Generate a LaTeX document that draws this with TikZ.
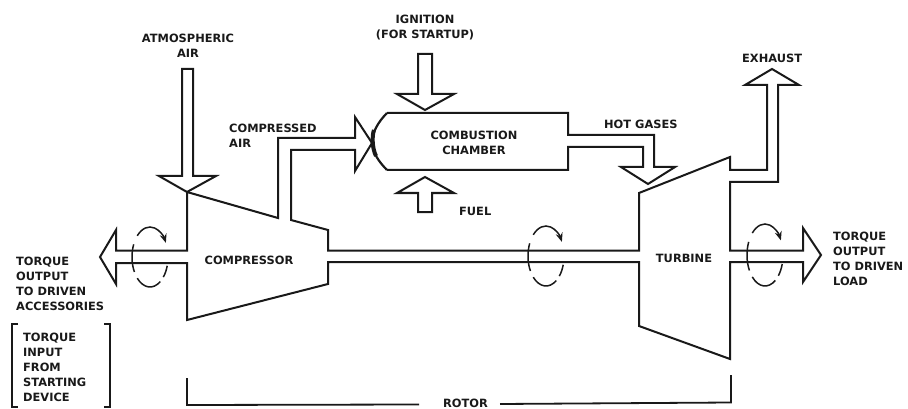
\documentclass[tikz,border=0pt]{standalone}
\usepackage{fontspec}
\setmainfont{DejaVu Sans}
\usetikzlibrary{arrows.meta}
\tikzset{
  ln/.style={line width=2pt,line join=miter,black!90},
  thinln/.style={line width=1.8pt,line join=miter,black!90},
  lbl/.style={font=\bfseries\fontsize{11.4}{15}\selectfont,text=black!90,inner sep=0pt,align=left,anchor=west},
  lblc/.style={font=\bfseries\fontsize{11.4}{15}\selectfont,text=black!90,inner sep=0pt,align=center},
  rot/.style={line width=1.5pt,black!90},
  rotarrow/.style={rot,-{Stealth[length=9pt,width=7pt]}},
}
\newcommand{\rotmark}[3]{%
  \draw[rotarrow] ([shift={(135:18pt and #3pt)}]#1,#2) arc[start angle=135,end angle=28,x radius=18pt,y radius=#3pt];
  \draw[rot] ([shift={(155:18pt and #3pt)}]#1,#2) arc[start angle=155,end angle=210,x radius=18pt,y radius=#3pt];
  \draw[rot] ([shift={(225:18pt and #3pt)}]#1,#2) arc[start angle=225,end angle=305,x radius=18pt,y radius=#3pt];
  \draw[rot] ([shift={(318:18pt and #3pt)}]#1,#2) arc[start angle=318,end angle=343,x radius=18pt,y radius=#3pt];
}
\begin{document}
\begin{tikzpicture}[x=1pt,y=-1pt]
\useasboundingbox (0,0) rectangle (908,409);
% atmospheric arrow
\draw[ln] (182,69) -- (193,69) -- (193,176) -- (216,176) -- (187,192) -- (159,176) -- (182,176) -- cycle;
% compressor, shaft, turbine outline
\draw[ln] (187,192) -- (278,218) -- (278,138) -- (355,138) -- (355,117) -- (372,143) -- (355,171) -- (355,150) -- (291,150) -- (291,220) -- (328,230) -- (328,250.5) -- (639,250.5) -- (639,193) -- (730,157) -- (730,170) -- (767,170) -- (767,85) -- (745,85) -- (772,69) -- (799,85) -- (778,85) -- (778,182) -- (730,182) -- (730,250.5) -- (803,250.5) -- (803,228) -- (821,255) -- (803,282) -- (803,262) -- (730,262) -- (730,359) -- (639,326) -- (639,262) -- (328,262) -- (328,284) -- (187,320) -- (187,263) -- (116,263) -- (116,284) -- (100,257) -- (116,230) -- (116,250.5) -- (187,250.5) -- cycle;
% combustion chamber + hot gases
\draw[ln] (387,113) -- (568,113) -- (568,135) -- (654,135) -- (654,167) -- (675,167) -- (648,184) -- (621,167) -- (643,167) -- (643,147) -- (568,147) -- (568,170) -- (387,170);
\draw[line width=2.2pt,black!90] (387,113) .. controls (378,122) and (372,133) .. (372,142) .. controls (372,152) and (379,162) .. (387,170);
\draw[line width=4pt,black!90] (374,130) .. controls (372,135) and (372,148) .. (376,156);
% ignition
\draw[ln] (418,54) -- (432,54) -- (432,94) -- (454,94) -- (425,110) -- (397,94) -- (418,94) -- cycle;
% fuel
\draw[ln] (425,177) -- (454,193) -- (432,193) -- (432,212) -- (418,212) -- (418,193) -- (397,193) -- cycle;
% rotor bracket
\draw[thinln] (187,378) -- (187,405) -- (419,404.5);
\draw[thinln] (500,404) -- (731,402.5) -- (731,375);
% start bracket
\draw[thinln] (18,324) -- (12,324) -- (12,407) -- (18,407);
\draw[thinln] (104,324) -- (110,324) -- (110,407) -- (104,407);
% rotation marks
\rotmark{150}{257}{30}
\rotmark{546}{256}{30}
\rotmark{765}{255}{31}
% labels
\node[lblc] (atm) at (188,46) {ATMOSPHERIC\\AIR};
\node[lblc] (ign) at (425,28) {IGNITION\\(FOR STARTUP)};
\node[lbl] (comp) at (229,136) {COMPRESSED\\AIR};
\node[lblc] (cc) at (474,142.5) {COMBUSTION\\CHAMBER};
\node[lbl] (hot) at (604,124) {HOT GASES};
\node[lbl] (exh) at (742,58) {EXHAUST};
\node[lbl] (fuel) at (459,211) {FUEL};
\node[lblc] (cmp) at (249,260) {COMPRESSOR};
\node[lblc] (tur) at (684,258) {TURBINE};
\node[lbl] (tq1) at (16,284) {TORQUE\\OUTPUT\\TO DRIVEN\\ACCESSORIES};
\node[lbl] (tq2) at (23,367) {TORQUE\\INPUT\\FROM\\STARTING\\DEVICE};
\node[lbl] (tq3) at (833,259) {TORQUE\\OUTPUT\\TO DRIVEN\\LOAD};
\node[lblc] (rotor) at (465.5,403.5) {ROTOR};
\end{tikzpicture}
\end{document}
